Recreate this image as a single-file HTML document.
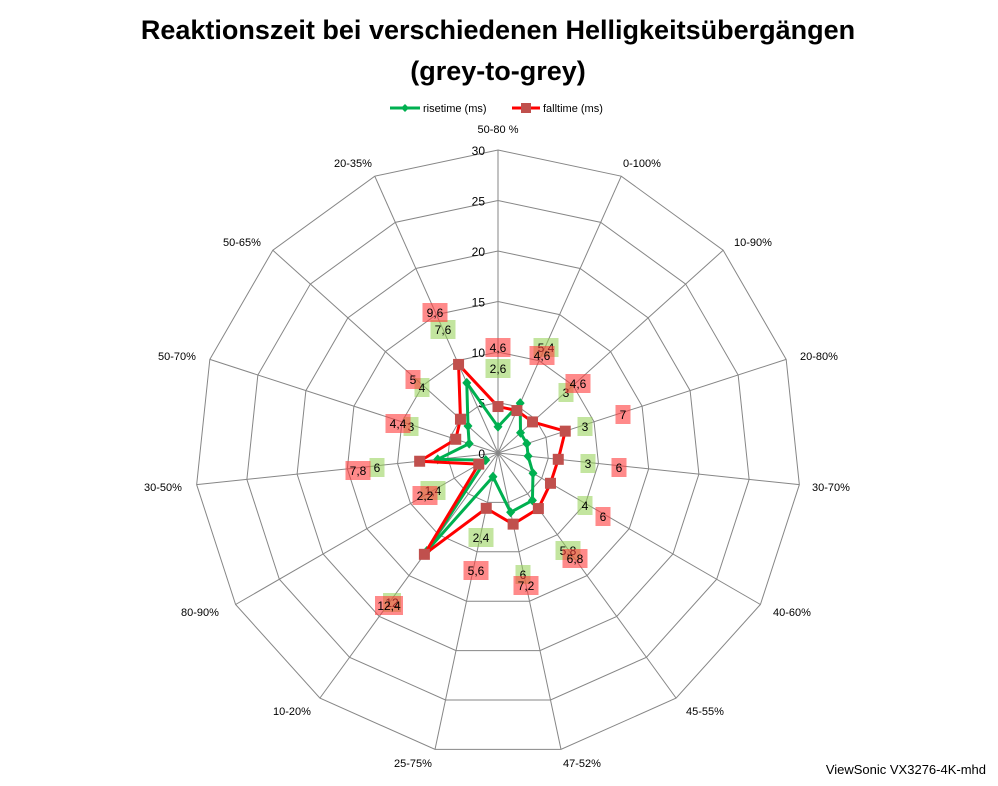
<!DOCTYPE html>
<html><head><meta charset="utf-8"><style>
html,body{margin:0;padding:0;background:#fff;}
svg{display:block;font-family:"Liberation Sans",Calibri,sans-serif;}
</style></head><body>
<svg id="s" width="998" height="786" viewBox="0 0 998 786" xmlns="http://www.w3.org/2000/svg">
<text x="498" y="39" text-anchor="middle" font-size="27" font-weight="bold">Reaktionszeit bei verschiedenen Helligkeitsübergängen</text>
<text x="498" y="80" text-anchor="middle" font-size="27" font-weight="bold">(grey-to-grey)</text>
<line x1="390" y1="108" x2="420" y2="108" stroke="#00b050" stroke-width="3"/>
<path d="M405 104 L409 108 L405 112 L401 108Z" fill="#00b050"/>
<text x="423" y="112" font-size="11">risetime (ms)</text>
<line x1="512" y1="108" x2="540" y2="108" stroke="#ff0000" stroke-width="3"/>
<rect x="521" y="103" width="10" height="10" fill="#c0504d"/>
<text x="543" y="112" font-size="11">falltime (ms)</text>
<text x="986" y="774" text-anchor="end" font-size="13">ViewSonic VX3276-4K-mhd</text>
<g id="g"></g>
</svg>
<script>
var cx=498,cy=453,R=303,N=15,ns="http://www.w3.org/2000/svg",g=document.getElementById('g');
function el(t,a,txt){var e=document.createElementNS(ns,t);for(var k in a)e.setAttribute(k,a[k]);if(txt!=null)e.textContent=txt;g.appendChild(e);return e;}
function pt(i,v){var a=i*2*Math.PI/N;var r=v/30*R;return [cx+r*Math.sin(a),cy-r*Math.cos(a)];}
for(var k=1;k<=6;k++){var p=[];for(var i=0;i<N;i++)p.push(pt(i,k*5).join(','));el('polygon',{points:p.join(' '),fill:'none',stroke:'#868686','stroke-width':1});}
for(var i=0;i<N;i++){var q=pt(i,30);el('line',{x1:cx,y1:cy,x2:q[0],y2:q[1],stroke:'#868686','stroke-width':1});}
for(var k=0;k<=6;k++)el('text',{x:485,y:cy-k*R/6+5,'text-anchor':'end','font-size':12},String(k*5));
var cats=[["50-80 %",498,133],["0-100%",642,167],["10-90%",753,246],["20-80%",819,360],["30-70%",831,491],["40-60%",792,616],["45-55%",705,715],["47-52%",582,767],["25-75%",413,767],["10-20%",292,715],["80-90%",200,616],["30-50%",163,491],["50-70%",177,360],["50-65%",242,246],["20-35%",353,167]];
cats.forEach(function(c){el('text',{x:c[1],y:c[2],'text-anchor':'middle','font-size':11},c[0]);});
var rise=[2.6,5.4,3,3,3,4,5.8,6,2.4,12,1.4,6,3,4,7.6];
var fall=[4.6,4.6,4.6,7,6,6,6.8,7.2,5.6,12.4,2.2,7.8,4.4,5,9.6];
function series(d,col,mk){var p=d.map(function(v,i){return pt(i,v).join(',');});el('polygon',{points:p.join(' '),fill:'none',stroke:col,'stroke-width':3,'stroke-linejoin':'round'});
d.forEach(function(v,i){var q=pt(i,v);if(mk=='sq')el('rect',{x:q[0]-5.5,y:q[1]-5.5,width:11,height:11,fill:'#c0504d'});else el('path',{d:'M'+q[0]+' '+(q[1]-5)+' l4.5 5 l-4.5 5 l-4.5 -5Z',fill:'#00b050'});});}
series(rise,'#00b050','d');series(fall,'#ff0000','sq');
var labs=[["7,6",443,329,'g'],["2,6",498,368,'g'],["5,4",546,347,'g'],["3",566,392,'g'],["3",585,426,'g'],["3",588,463,'g'],["4",585,505,'g'],["5,8",568,550,'g'],["6",523,574,'g'],["2,4",481,537,'g'],["12",392,602,'g'],["1,4",433,490,'g'],["6",377,467,'g'],["3",411,426,'g'],["4",422,387,'g'],
["9,6",435,312,'r'],["4,6",498,347,'r'],["4,6",542,355,'r'],["4,6",578,383,'r'],["7",623,414,'r'],["6",619,467,'r'],["6",603,516,'r'],["6,8",575,558,'r'],["7,2",526,585,'r'],["5,6",476,570,'r'],["12,4",389,605,'r'],["2,2",425,495,'r'],["7,8",358,470,'r'],["4,4",398,423,'r'],["5",413,379,'r']];
labs.forEach(function(l){var w=l[0].length==1?15:(l[0].length==2?18:25);if(l[0].length==4)w=28;el('rect',{x:l[1]-w/2,y:l[2]-9,width:w,height:19,fill:l[3]=='g'?'rgba(146,208,80,0.55)':'rgba(255,60,60,0.6)'});el('text',{x:l[1],y:l[2]+5,'text-anchor':'middle','font-size':12},l[0]);});
</script>
</body></html>
